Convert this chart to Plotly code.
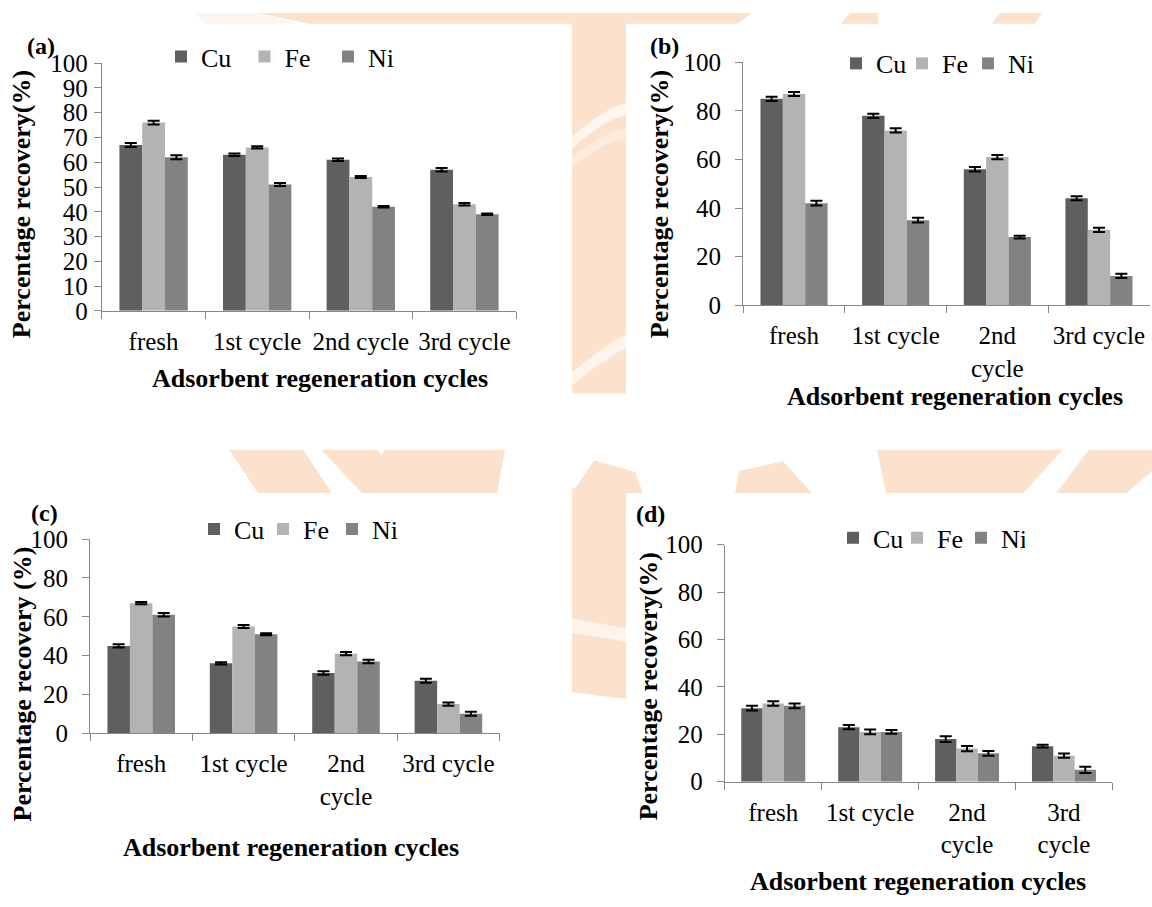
import plotly.graph_objects as go

W, H = 1152, 907

# ---- data -------------------------------------------------------------
cycles_a = ["fresh", "1st cycle", "2nd cycle", "3rd cycle"]
cycles_b = ["fresh", "1st cycle", "2nd<br>cycle", "3rd cycle"]
cycles_c = ["fresh", "1st cycle", "2nd<br>cycle", "3rd cycle"]
cycles_d = ["fresh", "1st cycle", "2nd<br>cycle", "3rd<br>cycle"]

metals = ["Cu", "Fe", "Ni"]

a_cu = [67, 63, 61, 57]
a_fe = [76, 66, 54, 43]
a_ni = [62, 51, 42, 39]
a_cu_err = [0.8, 0.5, 0.5, 0.7]
a_fe_err = [0.8, 0.5, 0.4, 0.5]
a_ni_err = [0.8, 0.6, 0.3, 0.3]

b_cu = [85, 78, 56, 44]
b_fe = [87, 72, 61, 31]
b_ni = [42, 35, 28, 12]
b_cu_err = [0.9, 0.9, 0.9, 0.8]
b_fe_err = [0.8, 0.9, 0.9, 0.9]
b_ni_err = [1.0, 1.0, 0.6, 0.9]

c_cu = [45, 36, 31, 27]
c_fe = [67, 55, 41, 15]
c_ni = [61, 51, 37, 10]
c_cu_err = [0.8, 0.6, 0.9, 1.0]
c_fe_err = [0.6, 0.8, 0.8, 0.8]
c_ni_err = [0.9, 0.5, 0.9, 1.0]

d_cu = [31, 23, 18, 15]
d_fe = [33, 21, 14, 11]
d_ni = [32, 21, 12, 5]
d_cu_err = [1.0, 0.9, 1.2, 0.6]
d_fe_err = [0.9, 1.0, 1.1, 0.9]
d_ni_err = [1.0, 0.8, 1.0, 1.3]

# ---- styling ------------------------------------------------------------
colors = {"Cu": "#5f5f5f", "Fe": "#b3b3b3", "Ni": "#828282"}
AXIS_GRAY = "#878787"
SERIF = "Liberation Serif"
PEACH = "#fce1cd"


def px_x(x):
    return x / W


def px_y(y):
    return 1 - y / H


panels = [
    dict(cats=cycles_a, vals=[a_cu, a_fe, a_ni], errs=[a_cu_err, a_fe_err, a_ni_err],
         box=(101.8, 51.7, 516.2, 307.0), dtick=10, ystand=1,
         legend=dict(x=161, y=45, entry=38.5),
         letter=("(a)", 41, 34), ytitle=("Percentage recovery(%)", 21, 197),
         xtitle=(320, 377)),
    dict(cats=cycles_b, vals=[b_cu, b_fe, b_ni], errs=[b_cu_err, b_fe_err, b_ni_err],
         box=(743.2, 51.0, 1149.8, 301.0), dtick=20, ystand=9,
         legend=dict(x=836, y=52, entry=21),
         letter=("(b)", 664, 34), ytitle=("Percentage recovery(%)", 659, 197),
         xtitle=(955, 395)),
    dict(cats=cycles_c, vals=[c_cu, c_fe, c_ni], errs=[c_cu_err, c_fe_err, c_ni_err],
         box=(90.0, 542.3, 499.6, 742.3), dtick=20, ystand=9,
         legend=dict(x=194, y=532, entry=24),
         letter=("(c)", 44, 515), ytitle=("Percentage recovery (%)", 22, 692),
         xtitle=(291, 860)),
    dict(cats=cycles_d, vals=[d_cu, d_fe, d_ni], errs=[d_cu_err, d_fe_err, d_ni_err],
         box=(724.8, 548.0, 1112.4, 792.3), dtick=20, ystand=9,
         legend=dict(x=833, y=541, entry=19),
         letter=("(d)", 650, 516), ytitle=("Percentage recovery(%)", 648, 694),
         xtitle=(918, 895)),
]

fig = go.Figure()
layout = dict(
    width=W, height=H,
    margin=dict(l=0, r=0, t=0, b=0),
    paper_bgcolor="white",
    plot_bgcolor="rgba(0,0,0,0)",
    barmode="group",
    bargap=0.34,
    bargroupgap=0,
    font=dict(family=SERIF, size=25, color="black"),
)

annotations = []

for i, p in enumerate(panels, start=1):
    sfx = "" if i == 1 else str(i)
    leg = "legend" if i == 1 else f"legend{i}"
    x0, y0, x1, y1 = p["box"]
    for m, vals, errs in zip(metals, p["vals"], p["errs"]):
        fig.add_trace(go.Bar(
            x=p["cats"], y=vals, name=m,
            marker=dict(color=colors[m], line=dict(width=0)),
            error_y=dict(type="data", array=errs, visible=True,
                         color="black", thickness=2, width=6),
            xaxis=f"x{sfx}", yaxis=f"y{sfx}", legend=leg,
        ))

    layout[f"xaxis{sfx}"] = dict(
        domain=[px_x(x0), px_x(x1)], anchor=f"y{sfx}",
        type="category", range=[-0.5, 3.5],
        tickson="boundaries", ticks="outside", ticklen=7, tickwidth=1.2,
        tickcolor=AXIS_GRAY, showline=True, linecolor=AXIS_GRAY, linewidth=1.2,
        showgrid=False, zeroline=False, ticklabelstandoff=8, tickangle=0,
        tickfont=dict(family=SERIF, size=25, color="black"),
    )
    layout[f"yaxis{sfx}"] = dict(
        domain=[px_y(y1), px_y(y0)], anchor=f"x{sfx}",
        range=[0, 100], dtick=p["dtick"], tick0=0,
        ticks="outside", ticklen=7, tickwidth=1.2, tickcolor=AXIS_GRAY,
        showline=True, linecolor=AXIS_GRAY, linewidth=1.2,
        showgrid=False, zeroline=False, ticklabelstandoff=p["ystand"],
        tickfont=dict(family=SERIF, size=25, color="black"),
    )
    lg = p["legend"]
    layout[leg] = dict(
        orientation="h", x=px_x(lg["x"]), y=px_y(lg["y"]),
        xanchor="left", yanchor="middle",
        bgcolor="rgba(0,0,0,0)", borderwidth=0,
        font=dict(family=SERIF, size=26, color="black"),
        itemwidth=30, entrywidthmode="pixels", entrywidth=lg["entry"],
        traceorder="normal", itemclick=False, itemdoubleclick=False,
    )

    txt, lx, ly = p["letter"]
    annotations.append(dict(text=f"<b>{txt}</b>", x=px_x(lx), y=px_y(ly),
                            xref="paper", yref="paper", showarrow=False,
                            xanchor="center", yanchor="middle",
                            font=dict(family=SERIF, size=24, color="black")))
    ttl, tx, ty = p["ytitle"]
    annotations.append(dict(text=f"<b>{ttl}</b>", x=px_x(tx), y=px_y(ty),
                            xref="paper", yref="paper", showarrow=False,
                            textangle=-90, xanchor="center", yanchor="middle",
                            font=dict(family=SERIF, size=26, color="black")))
    xt, yt = p["xtitle"]
    annotations.append(dict(text="<b>Adsorbent regeneration cycles</b>",
                            x=px_x(xt), y=px_y(yt),
                            xref="paper", yref="paper", showarrow=False,
                            xanchor="center", yanchor="middle",
                            font=dict(family=SERIF, size=26, color="black")))

layout["annotations"] = annotations


# ---- faint emblem behind the panels, then the white panel cards ----------
def poly(points, color, opacity=1.0):
    d = "M " + " L ".join(f"{px_x(x):.5f},{px_y(y):.5f}" for x, y in points) + " Z"
    return dict(type="path", path=d, xref="paper", yref="paper",
                fillcolor=color, line=dict(width=0), layer="below", opacity=opacity)


def curve_band(xa, ya, xb, yb, cx, cy, thick, color):
    d = (f"M {px_x(xa):.5f},{px_y(ya):.5f} "
         f"Q {px_x(cx):.5f},{px_y(cy):.5f} {px_x(xb):.5f},{px_y(yb):.5f} "
         f"L {px_x(xb):.5f},{px_y(yb + thick):.5f} "
         f"Q {px_x(cx):.5f},{px_y(cy + thick):.5f} {px_x(xa):.5f},{px_y(ya + thick):.5f} Z")
    return dict(type="path", path=d, xref="paper", yref="paper",
                fillcolor=color, line=dict(width=0), layer="below")


shapes = [
    # top rim
    poly([(195, 0), (262, 0), (300, 13), (205, 13)], PEACH, 0.35),
    poly([(258, 0), (752, 0), (735, 13), (318, 13)], PEACH),
    poly([(850, 0), (878, 0), (878, 13), (839, 13)], PEACH),
    poly([(1000, 0), (1042, 0), (1033, 13), (990, 13)], PEACH),
    # upper gutter
    poly([(570, 0), (628, 0), (628, 392), (570, 392)], PEACH),
    curve_band(570, 130, 628, 92, 600, 100, 12, "#fff6ef"),
    curve_band(570, 150, 628, 118, 600, 125, 10, "#fdebdd"),
    curve_band(570, 372, 628, 330, 600, 345, 14, "#fff4ec"),
    # middle band
    poly([(229, 450), (303, 450), (332, 495), (258, 495)], PEACH),
    poly([(321, 450), (378, 450), (381, 456), (385, 450), (505, 450), (497, 495), (362, 495)], PEACH),
    poly([(572, 495), (594, 461), (635, 473), (643, 495)], PEACH),
    poly([(735, 495), (739, 472), (783, 462), (812, 495)], PEACH),
    poly([(877, 450), (1063, 450), (1023, 495), (886, 495)], PEACH),
    poly([(1089, 450), (1152, 450), (1152, 472), (1126, 495), (1056, 495)], PEACH),
    # lower gutter
    poly([(572, 490), (626, 490), (626, 707), (572, 700)], PEACH),
    poly([(572, 624), (626, 634), (626, 648), (572, 639)], "#fff3ea"),
    # white panel cards
    poly([(0, 11), (572, 11), (572, 450), (0, 450)], "white"),
    poly([(626, 11), (1152, 11), (1152, 450), (626, 450)], "white"),
    poly([(0, 495), (572, 495), (572, 907), (0, 907)], "white"),
    poly([(626, 495), (1152, 495), (1152, 907), (626, 907)], "white"),
]
layout["shapes"] = shapes

fig.update_layout(**layout)
fig.write_html("out.html")
